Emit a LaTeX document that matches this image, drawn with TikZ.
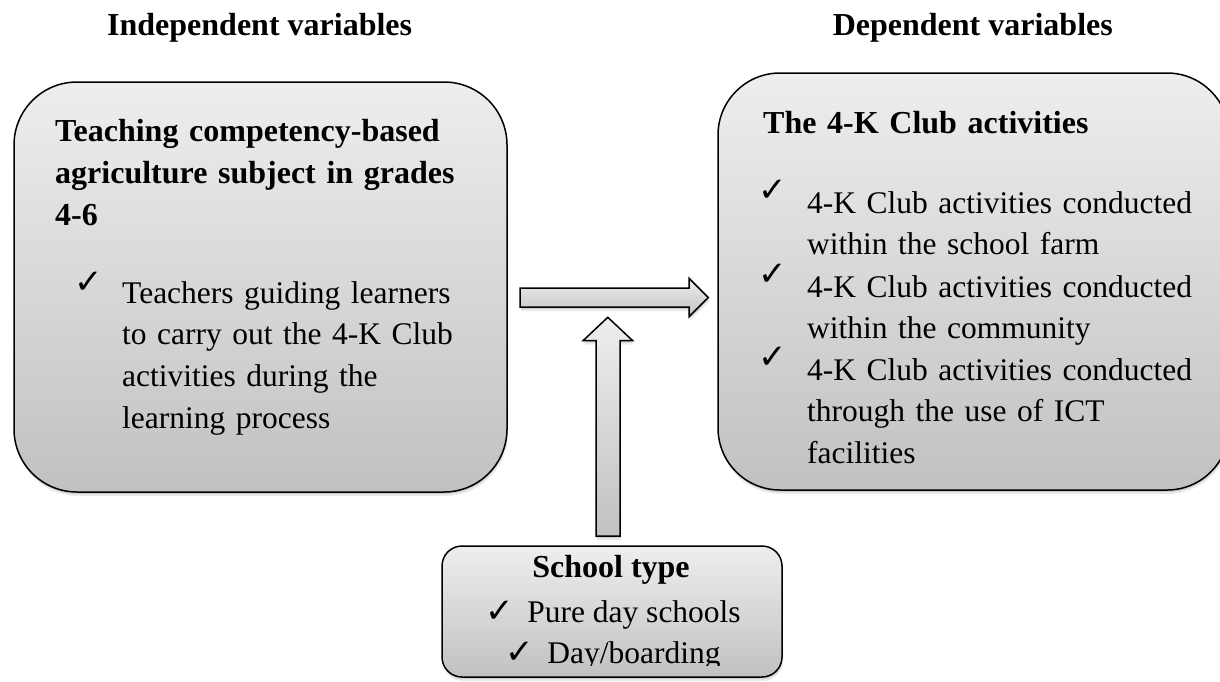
\documentclass[tikz,border=0pt]{standalone}
\usepackage{fontspec}
\setmainfont{Liberation Serif}
\newfontfamily\symbolfont{DejaVu Sans}
\usetikzlibrary{shadows}
\definecolor{shadetop}{RGB}{238,238,238}
\definecolor{shadebot}{RGB}{193,193,193}
% check mark used in front of every list item
\newcommand{\tickmark}{{\symbolfont\fontsize{34}{34}\selectfont ✓}}
\begin{document}
\begin{tikzpicture}[x=1pt,y=-1pt,
  soft/.style={
    general shadow={shadow xshift=1pt,shadow yshift=-4pt,fill=black,opacity=0.08},
    general shadow={shadow xshift=0.5pt,shadow yshift=-2pt,fill=black,opacity=0.12}},
  panel/.style={draw=black,line width=1.5pt,top color=shadetop,bottom color=shadebot,
    inner sep=0pt,soft},
  blockarrow/.style={draw=black,line width=1.5pt,top color=shadetop,bottom color=shadebot,
    line join=miter,soft},
  heading/.style={font=\fontsize{32}{41.7}\selectfont\bfseries,inner sep=0pt},
  titletext/.style={font=\fontsize{32}{41.7}\selectfont\bfseries,text width=460pt,
    align=left,inner sep=0pt},
  bodytext/.style={font=\fontsize{31.5}{41.7}\selectfont,text width=420pt,align=left,inner sep=0pt},
  tickmk/.style={inner sep=0pt,anchor=base west},
  centreline/.style={font=\fontsize{31.5}{41.7}\selectfont,inner sep=0pt,anchor=base}]

\useasboundingbox (0,0) rectangle (1220,681);
\clip (0,0) rectangle (1220,681);

% column headings
\node[heading,anchor=base west] (hind) at (107,35) {Independent variables};
\node[heading,anchor=base east] (hdep) at (1113,35) {Dependent variables};

% the three rounded panels
\node[panel,rounded corners=63pt,minimum width=493pt,minimum height=410pt] (indep) at (260.5,287) {};
\node[panel,rounded corners=62pt,minimum width=511pt,minimum height=417pt] (dep) at (973.5,281.5) {};
\node[panel,rounded corners=20pt,minimum width=340pt,minimum height=131pt] (mod) at (612,611.5) {};

% block arrows: independent -> dependent, school type -> relation
\draw[blockarrow] (520,288) -- (689,288) -- (689,278.3) -- (708.3,297.5)
  -- (689,316.7) -- (689,307) -- (520,307) -- cycle;
\draw[blockarrow] (596,536) -- (596,340.7) -- (583,340.7) -- (607.8,317.3)
  -- (632.7,340.7) -- (620,340.7) -- (620,536) -- cycle;

% independent variable panel
\node[titletext,anchor=base west] (indtitle) at (55,141.7)
  {Teaching competency-based\\agriculture subject in grades\\4-6};
\node[tickmk] (ickA) at (74,293) {\tickmark};
\node[bodytext,anchor=base west] (iitemA) at (122,303)
  {Teachers guiding learners\\to carry out the 4-K Club\\activities during the\\learning process};

% dependent variable panel
\node[titletext,anchor=base west] (deptitle) at (763,133) {The 4-K Club activities};
\node[tickmk] (dckA) at (758,201) {\tickmark};
\node[bodytext,anchor=base west] (ditemA) at (807,213)
  {4-K Club activities conducted\\within the school farm};
\node[tickmk] (dckB) at (758,285) {\tickmark};
\node[bodytext,anchor=base west] (ditemB) at (807,297)
  {4-K Club activities conducted\\within the community};
\node[tickmk] (dckC) at (758,368) {\tickmark};
\node[bodytext,anchor=base west] (ditemC) at (807,380)
  {4-K Club activities conducted\\through the use of ICT\\facilities};

% moderating variable panel, text cut at the inner margin
\begin{scope}
  \clip (442,540) rectangle (782,665.5);
  \node[heading,anchor=base] (modtitle) at (611,577) {School type};
  \node[centreline] (mitemA) at (613,622) {\makebox[42pt][l]{\tickmark}Pure day schools};
  \node[centreline] (mitemB) at (613,663) {\makebox[42pt][l]{\tickmark}Day/boarding};
\end{scope}
\end{tikzpicture}
\end{document}
